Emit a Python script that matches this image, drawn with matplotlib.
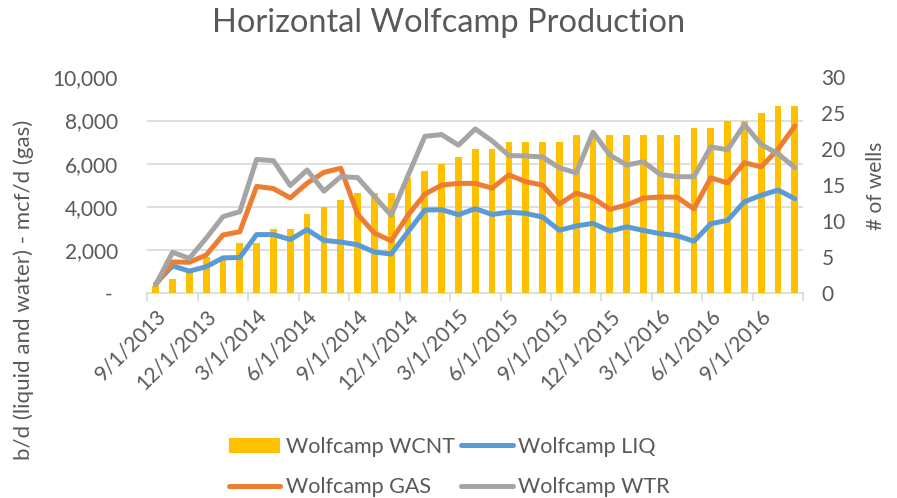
import matplotlib
matplotlib.use("Agg")
import matplotlib.pyplot as plt
import numpy as np
import pandas as pd
from matplotlib.ticker import FuncFormatter

plt.rcParams['font.family'] = ['Lato', 'DejaVu Sans']

# monthly categories, 9/2013 .. 11/2016
months = pd.date_range("2013-09-01", periods=39, freq="MS")
month_labels = [f"{d.month}/1/{d.year}" for d in months]

# number of wells (right axis)
wcnt = [1, 2, 3, 5, 5, 7, 7, 9, 9, 11,
        12, 13, 14, 14, 14, 16, 17, 18, 19, 20,
        20, 21, 21, 21, 21, 22, 22, 22, 22, 22,
        22, 22, 23, 23, 24, 24, 25, 26, 26]

# b/d liquids, mcf/d gas, b/d water (left axis)
liq = [450, 1270, 1030, 1230, 1640, 1660, 2720, 2720, 2490, 2950,
       2450, 2375, 2250, 1910, 1820, 2850, 3856, 3870, 3640, 3920,
       3650, 3760, 3700, 3530, 2920, 3120, 3240, 2880, 3080, 2910,
       2760, 2670, 2410, 3220, 3380, 4240, 4540, 4780, 4380]
gas = [400, 1450, 1440, 1770, 2700, 2850, 4950, 4850, 4420, 5100,
       5600, 5790, 3670, 2790, 2430, 3620, 4590, 5010, 5090, 5090,
       4870, 5480, 5170, 5010, 4130, 4640, 4410, 3890, 4090, 4410,
       4460, 4450, 3910, 5350, 5110, 6045, 5860, 6670, 7750]
wtr = [400, 1900, 1620, 2550, 3550, 3780, 6200, 6140, 4990, 5710,
       4730, 5400, 5360, 4490, 3610, 5450, 7270, 7350, 6860, 7610,
       7060, 6380, 6360, 6310, 5810, 5580, 7460, 6400, 5940, 6090,
       5500, 5400, 5400, 6775, 6650, 7815, 6890, 6460, 5825]

TXT = "#595959"
GRID = "#D9D9D9"

fig = plt.figure(figsize=(8.97, 4.98), dpi=100)
ax = fig.add_axes([0.1642, 0.411, 0.7313, 0.4337])  # bars, right axis
axl = ax.twinx()                                     # lines, left axis

x = np.arange(len(months))

# bars (wells)
bars = ax.bar(x, wcnt, width=0.4, color="#FFC000", zorder=3, label="Wolfcamp WCNT")
ax.set_ylim(0, 30)
ax.set_yticks(np.arange(0, 31, 5))
# gridlines matching the left axis (0..10000 step 2000 -> 0..30 step 6)
ax.set_yticks(np.arange(0, 31, 6), minor=True)
ax.grid(which="minor", axis="y", color=GRID, linewidth=1.2, zorder=0)
ax.tick_params(axis="y", which="both", length=0)
ax.yaxis.tick_right()
ax.yaxis.set_label_position("right")
ax.set_ylabel("# of wells", fontsize=15, color=TXT, labelpad=15)

# lines
kw = dict(linewidth=3.6, solid_joinstyle="round", solid_capstyle="round")
l_liq, = axl.plot(x, liq, color="#5B9BD5", label="Wolfcamp LIQ", **kw)
l_gas, = axl.plot(x, gas, color="#ED7D31", label="Wolfcamp GAS", **kw)
l_wtr, = axl.plot(x, wtr, color="#A5A5A5", label="Wolfcamp WTR", **kw)
axl.set_ylim(0, 10000)
axl.set_yticks(np.arange(0, 10001, 2000))
axl.yaxis.set_major_formatter(FuncFormatter(lambda v, p: f"{v:,.0f}" if v else "- "))
axl.yaxis.tick_left()
axl.tick_params(axis="y", length=0, labelsize=15, labelcolor=TXT, pad=21)
ax.tick_params(axis="y", labelsize=15, labelcolor=TXT, pad=13)

for a in (ax, axl):
    for s in a.spines.values():
        s.set_visible(False)

ax.spines["bottom"].set_visible(True)
ax.spines["bottom"].set_color(GRID)
ax.spines["bottom"].set_linewidth(1.2)

ax.set_xlim(-0.5, len(months) - 0.5)
ax.set_xticks(x[::3])
ax.set_xticklabels(month_labels[::3], rotation=45, ha="right", rotation_mode="anchor")
ax.set_xticks(np.arange(-0.5, len(months), 3), minor=True)
ax.tick_params(axis="x", which="major", length=0, labelsize=15, labelcolor=TXT, pad=9)
ax.tick_params(axis="x", which="minor", length=6, color=GRID, width=1.2)

fig.text(0.5, 0.953, "Horizontal Wolfcamp Production", ha="center", va="center",
         fontsize=23.5, color=TXT)
fig.text(0.026, 0.418, "b/d (liquid and water) - mcf/d (gas)", rotation=90,
         ha="center", va="center", fontsize=16, color=TXT)

fig.legend([bars, l_gas, l_liq, l_wtr],
           ["Wolfcamp WCNT", "Wolfcamp GAS", "Wolfcamp LIQ", "Wolfcamp WTR"],
           ncol=2, loc="center", bbox_to_anchor=(0.501, 0.062), frameon=False,
           fontsize=15.5, labelcolor=TXT, handlelength=2.4, handletextpad=0.25,
           columnspacing=0.3, labelspacing=0.95)

fig.savefig("out.png", dpi=100)
